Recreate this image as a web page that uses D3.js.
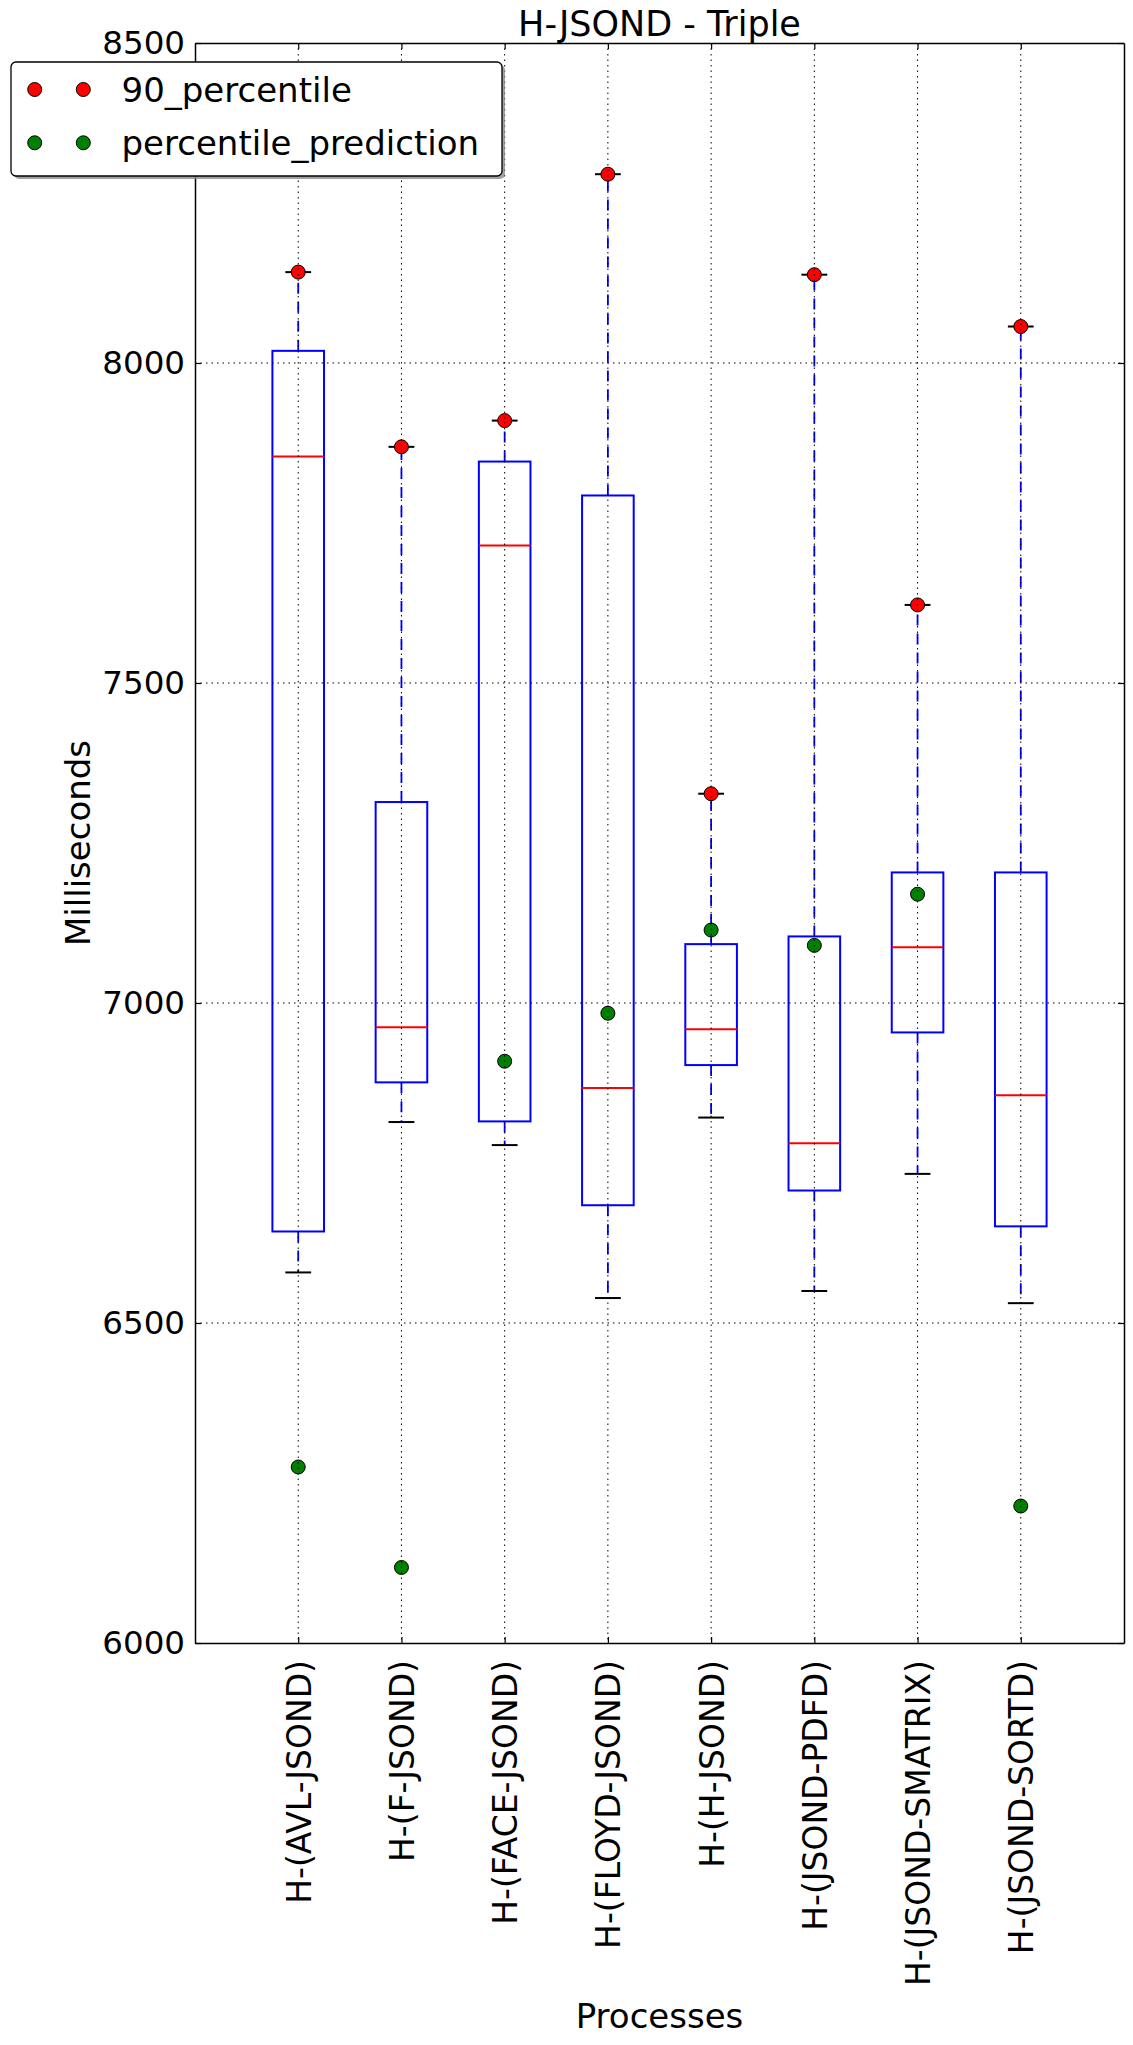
<!DOCTYPE html>
<html>
<head>
<meta charset="utf-8">
<script src="https://cdn.jsdelivr.net/npm/d3@7"></script>
<style>
  html, body { margin: 0; padding: 0; background: #fff; }
  svg { display: block; font-family: "DejaVu Sans", sans-serif; }
</style>
</head>
<body>
<svg id="chart" width="1133" height="2045"></svg>
<script>
const categories = ["H-(AVL-JSOND)", "H-(F-JSOND)", "H-(FACE-JSOND)", "H-(FLOYD-JSOND)", "H-(H-JSOND)", "H-(JSOND-PDFD)", "H-(JSOND-SMATRIX)", "H-(JSOND-SORTD)"];
const whiskerLow  = [6579, 6814, 6778, 6539, 6821, 6550, 6733, 6531];
const q1          = [6643, 6876, 6815, 6684, 6903, 6707, 6954, 6651];
const median      = [7854, 6962, 7715, 6867, 6959, 6781, 7087, 6856];
const q3          = [8019, 7314, 7846, 7793, 7092, 7104, 7204, 7204];
const whiskerHigh = [8142, 7869, 7910, 8295, 7327, 8138, 7622, 8057];
const percentile90 = [8142, 7869, 7910, 8295, 7327, 8138, 7622, 8057];
const percentilePrediction = [6275, 6118, 6909, 6984, 7114, 7090, 7170, 6214];
const yTicks = [6000, 6500, 7000, 7500, 8000, 8500];
const seriesNames = ["90_percentile", "percentile_prediction"];
const seriesColors = ["#ff0000", "#008000"];

const svg = d3.select("#chart");
const L = 195, R = 1124, T = 43, B = 1643;
const x = d3.scaleLinear().domain([0, categories.length + 1]).range([L, R]);
const y = d3.scaleLinear().domain([6000, 8500]).range([B, T]);
const xi = i => x(i + 1);
const boxW = x(0.5) - x(0);
const capW = x(0.25) - x(0);
const FS = 33;

const plot = svg.append("g");
const idx = d3.range(categories.length);

// whiskers
plot.selectAll(".wl").data(idx).join("line")
  .attr("x1", xi).attr("x2", xi)
  .attr("y1", i => y(q1[i])).attr("y2", i => y(whiskerLow[i]))
  .attr("stroke", "#0000ff").attr("stroke-width", 1.8).attr("stroke-dasharray", "11,8");
plot.selectAll(".wh").data(idx).join("line")
  .attr("x1", xi).attr("x2", xi)
  .attr("y1", i => y(q3[i])).attr("y2", i => y(whiskerHigh[i]))
  .attr("stroke", "#0000ff").attr("stroke-width", 1.8).attr("stroke-dasharray", "11,8");
// caps
[whiskerLow, whiskerHigh].forEach(arr => {
  plot.append("g").selectAll("line").data(idx).join("line")
    .attr("x1", i => xi(i) - capW / 2).attr("x2", i => xi(i) + capW / 2)
    .attr("y1", i => y(arr[i])).attr("y2", i => y(arr[i]))
    .attr("stroke", "#000").attr("stroke-width", 2);
});
// boxes
plot.append("g").selectAll("rect").data(idx).join("rect")
  .attr("x", i => xi(i) - boxW / 2).attr("width", boxW)
  .attr("y", i => y(q3[i])).attr("height", i => y(q1[i]) - y(q3[i]))
  .attr("fill", "none").attr("stroke", "#0000ff").attr("stroke-width", 2);
// medians
plot.append("g").selectAll("line").data(idx).join("line")
  .attr("x1", i => xi(i) - boxW / 2).attr("x2", i => xi(i) + boxW / 2)
  .attr("y1", i => y(median[i])).attr("y2", i => y(median[i]))
  .attr("stroke", "#ff0000").attr("stroke-width", 2);
// points
[percentile90, percentilePrediction].forEach((arr, k) => {
  plot.append("g").selectAll("circle").data(idx).join("circle")
    .attr("cx", xi).attr("cy", i => y(arr[i])).attr("r", 7)
    .attr("fill", seriesColors[k]).attr("stroke", "#000").attr("stroke-width", 1);
});

// grid (drawn on top, classic style)
const grid = svg.append("g").attr("stroke", "#000").attr("stroke-width", 1).attr("stroke-dasharray", "1.5,4");
grid.selectAll(".gy").data(yTicks.slice(1, -1)).join("line")
  .attr("x1", L).attr("x2", R).attr("y1", d => y(d)).attr("y2", d => y(d));
grid.selectAll(".gx").data(idx).join("line")
  .attr("x1", xi).attr("x2", xi).attr("y1", T).attr("y2", B);

// axes
const axLeft = svg.append("g").attr("transform", `translate(${L},0)`)
  .call(d3.axisLeft(y).tickValues(yTicks).tickSize(-6).tickSizeOuter(0).tickPadding(10).tickFormat(d3.format("d")));
const axRight = svg.append("g").attr("transform", `translate(${R},0)`)
  .call(d3.axisRight(y).tickValues(yTicks).tickSize(-6).tickSizeOuter(0).tickFormat(""));
const axBottom = svg.append("g").attr("transform", `translate(0,${B})`)
  .call(d3.axisBottom(x).tickValues(idx.map(i => i + 1)).tickSize(-6).tickSizeOuter(0)
    .tickFormat(d => categories[d - 1]));
const axTop = svg.append("g").attr("transform", `translate(0,${T})`)
  .call(d3.axisTop(x).tickValues(idx.map(i => i + 1)).tickSize(-6).tickSizeOuter(0).tickFormat(""));
[axLeft, axRight, axBottom, axTop].forEach(a => {
  a.select(".domain").attr("stroke", "#000").attr("stroke-width", 1.5);
  a.selectAll(".tick line").attr("stroke", "#000").attr("stroke-width", 1.2);
  a.selectAll("text").attr("fill", "#000").attr("font-family", "DejaVu Sans").attr("font-size", FS);
});
axLeft.selectAll("text").attr("font-size", 32.5);
axBottom.selectAll("text")
  .attr("transform", "rotate(-90)").attr("text-anchor", "end")
  .attr("x", -17).attr("y", 0).attr("dy", "0.36em");

// titles
svg.append("text").attr("x", (L + R) / 2).attr("y", 36).attr("text-anchor", "middle")
  .attr("font-size", 35).attr("fill", "#000").text("H-JSOND - Triple");
svg.append("text").attr("transform", `translate(90,${(T + B) / 2}) rotate(-90)`)
  .attr("text-anchor", "middle").attr("font-size", 34).attr("fill", "#000").text("Milliseconds");
svg.append("text").attr("x", (L + R) / 2).attr("y", 2028).attr("text-anchor", "middle")
  .attr("font-size", 34).attr("fill", "#000").text("Processes");

// legend
const lg = svg.append("g");
lg.append("rect").attr("x", 14).attr("y", 65).attr("width", 491).attr("height", 114).attr("rx", 5)
  .attr("fill", "#888").attr("opacity", 0.8);
lg.append("rect").attr("x", 11).attr("y", 62).attr("width", 491).attr("height", 114).attr("rx", 5)
  .attr("fill", "#fff").attr("stroke", "#000").attr("stroke-width", 1.3);
seriesNames.forEach((name, k) => {
  const cy = 89.5 + k * 53.3;
  [34.7, 83.3].forEach(cx => {
    lg.append("circle").attr("cx", cx).attr("cy", cy).attr("r", 7)
      .attr("fill", seriesColors[k]).attr("stroke", "#000").attr("stroke-width", 1);
  });
  lg.append("text").attr("x", 121.5).attr("y", cy + 12).attr("font-size", 34).attr("fill", "#000").text(name);
});
</script>
</body>
</html>
